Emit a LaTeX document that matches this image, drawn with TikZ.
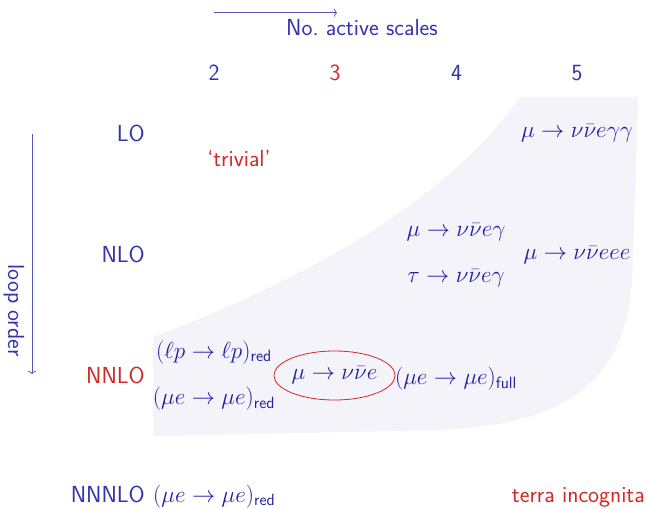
\RequirePackage{fix-cm}
\documentclass[tikz,border=0pt]{standalone}
\usetikzlibrary{shapes.geometric,arrows.meta}
\definecolor{sblue}{RGB}{51,51,178}
\definecolor{mblue}{RGB}{30,30,165}
\definecolor{sred}{RGB}{210,40,40}
\definecolor{shadec}{RGB}{243,243,249}
\definecolor{arrc}{RGB}{85,85,190}
\newcommand\bigfont{\fontsize{23.2}{28}\selectfont}
\tikzset{
  lab/.style={font=\bigfont\sffamily, text=sblue, inner sep=0pt},
  redlab/.style={font=\bigfont\sffamily, text=sred, inner sep=0pt},
  proc/.style={font=\bigfont, text=mblue, inner sep=0pt},
  axisarrow/.style={draw=arrc, line width=0.8pt, -{To[length=3pt,width=8pt]}},
  region/.style={fill=shadec},
  circled/.style={draw=sred, line width=0.8pt, ellipse, inner sep=0pt, minimum width=121pt, minimum height=49pt}
}
\begin{document}
\begin{tikzpicture}[x=1pt,y=-1pt]
\useasboundingbox (0,0) rectangle (647,508);
% shaded region
\fill[region] (153,337) .. controls (330,270) and (455,190) .. (520,97) -- (638,97)
  .. controls (636,170) and (634,230) .. (632,280)
  .. controls (625,400) and (540,425) .. (440,430) -- (153,436) -- cycle;
% axes
\coordinate (ha) at (214,12.7);
\coordinate (hb) at (337,12.7);
\draw[axisarrow] (ha) -- (hb);
\node[lab, anchor=base] (scales) at (362,36) {No.\ active scales};
\coordinate (va) at (32,134);
\coordinate (vb) at (32,374);
\draw[axisarrow] (va) -- (vb);
\node[lab, rotate=-90] (loop) at (14,310.5) {loop order};
% column numbers
\node[lab, anchor=base] (c2) at (214,81) {2};
\node[redlab, anchor=base] (c3) at (335,81) {3};
\node[lab, anchor=base] (c4) at (456.5,81) {4};
\node[lab, anchor=base] (c5) at (577,81) {5};
% row labels
\node[lab, anchor=base east] (lo) at (145,141.5) {LO};
\node[lab, anchor=base east] (nlo) at (145,262.5) {NLO};
\node[redlab, anchor=base east] (nnlo) at (145,383) {NNLO};
\node[lab, anchor=base east] (nnnlo) at (145,502) {NNNLO};
% entries
\node[redlab] (triv) at (239,158.5) {`trivial'};
\node[proc] (p5lo) at (577,133) {$\mu\to\nu\bar\nu e\gamma\gamma$};
\node[proc] (p4a) at (456,232) {$\mu\to\nu\bar\nu e\gamma$};
\node[proc] (p4b) at (456,278) {$\tau\to\nu\bar\nu e\gamma$};
\node[proc] (p5nlo) at (577,255) {$\mu\to\nu\bar\nu eee$};
\node[proc] (lp) at (214,352.5) {$(\ell p\to\ell p)_{\mathsf{red}}$};
\node[proc] (mered) at (214,399) {$(\mu e\to\mu e)_{\mathsf{red}}$};
\node[proc, circled] (mudec) at (334.5,375.5) {$\mu\to\nu\bar\nu e$};
\node[proc] (mefull) at (456,379) {$(\mu e\to\mu e)_{\mathsf{full}}$};
\node[proc, anchor=base west] (me3) at (153,502) {$(\mu e\to\mu e)_{\mathsf{red}}$};
\node[redlab, anchor=base east] (terra) at (645,502) {terra incognita};
\end{tikzpicture}
\end{document}
